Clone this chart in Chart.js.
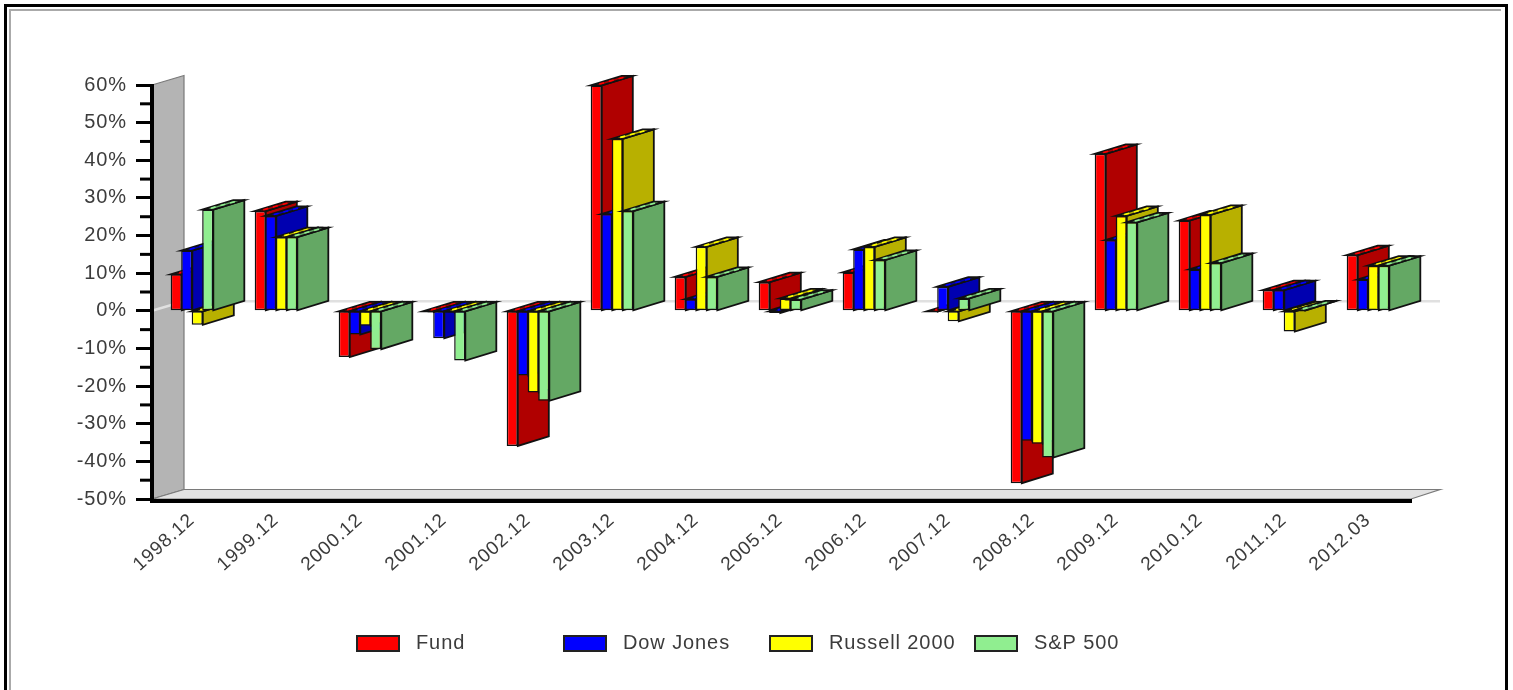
<!DOCTYPE html>
<html>
<head>
<meta charset="utf-8">
<title>Annual returns</title>
<script src="https://cdn.jsdelivr.net/npm/chart.js@4"></script>
<style>
  html, body { margin: 0; background: #fff; overflow: hidden; }
  #chart { position: absolute; left: 0; top: 0; filter: blur(0.7px); }
  .frame { position: absolute; box-sizing: border-box; pointer-events: none; }
  #frameOuter { left: 4px; top: 4px; width: 1504px; height: 720px; border: 3px solid #000; }
  #frameInner { left: 9px; top: 9px; width: 1492px; height: 700px; border-left: 2px solid #aaa; border-top: 2px solid #aaa; }
</style>
</head>
<body>
<canvas id="chart" width="1513" height="690"></canvas>
<div class="frame" id="frameOuter"></div>
<div class="frame" id="frameInner"></div>
<script>
const categories = ['1998.12', '1999.12', '2000.12', '2001.12', '2002.12', '2003.12', '2004.12', '2005.12',
  '2006.12', '2007.12', '2008.12', '2009.12', '2010.12', '2011.12', '2012.03'];

const fund = [9.7, 26.5, -12.3, -0.3, -35.9, 59.9, 9.0, 7.6, 10.2, -0.2, -45.8, 41.7, 24.0, 5.5, 14.8];
const dowJones = [16.0, 25.2, -6.3, -7.3, -17.2, 25.7, 3.1, -0.6, 16.3, 6.4, -34.5, 18.8, 11.0, 5.5, 8.3];
const russell2000 = [-3.7, 19.6, -4.0, -0.5, -21.7, 45.7, 17.0, 3.3, 17.0, -2.8, -35.3, 25.2, 25.5, -5.5, 12.0];
const sp500 = [26.9, 19.6, -10.2, -13.2, -23.9, 26.5, 9.0, 3.0, 13.5, 3.3, -39.0, 23.5, 12.7, 0.1, 12.0];

const seriesNames = ['Fund', 'Dow Jones', 'Russell 2000', 'S&P 500'];
const seriesValues = [fund, dowJones, russell2000, sp500];
const frontColors = ['#ff0000', '#0000ff', '#ffff00', '#90ee90'];
const sideColors = ['#b00000', '#0000b0', '#b8b000', '#64a864'];

const depthX = 31;
const depthY = -9.5;
const wallX = 32;

function poly(ctx, pts, fill, stroke, lineWidth) {
  ctx.beginPath();
  pts.forEach((p, i) => i ? ctx.lineTo(p[0], p[1]) : ctx.moveTo(p[0], p[1]));
  ctx.closePath();
  ctx.fillStyle = fill;
  ctx.fill();
  if (stroke) {
    ctx.strokeStyle = stroke;
    ctx.lineWidth = lineWidth;
    ctx.stroke();
  }
}

const box3d = {
  id: 'box3d',
  beforeDraw(chart) {
    const ctx = chart.ctx;
    const a = chart.chartArea;
    const zero = chart.scales.y.getPixelForValue(0);
    ctx.letterSpacing = '0.9px';
    ctx.save();
    // back wall and floor
    poly(ctx, [[a.left + 2, a.top], [a.left + wallX + 2, a.top + depthY], [a.left + wallX + 2, a.bottom + depthY],
      [a.left + 2, a.bottom]], '#b4b4b4', '#7a7a7a', 1.2);
    poly(ctx, [[a.left + 2, a.bottom], [a.left + wallX + 2, a.bottom + depthY], [a.right + 30, a.bottom + depthY],
      [a.right + 1, a.bottom]], '#e2e2e2', '#7a7a7a', 1.2);
    // zero plane
    ctx.strokeStyle = '#e0e0e0';
    ctx.lineWidth = 2.5;
    ctx.beginPath();
    ctx.moveTo(a.left + 2, zero);
    ctx.lineTo(a.left + wallX + 2, zero + depthY);
    ctx.lineTo(a.right + 30, zero + depthY);
    ctx.stroke();
    ctx.restore();
  },
  // returning false keeps the stock draw out, each bar is drawn below with its faces
  beforeDatasetsDraw(chart) {
    const ctx = chart.ctx;
    const a = chart.chartArea;
    const yScale = chart.scales.y;
    ctx.save();
    // axis lines
    ctx.fillStyle = '#000';
    ctx.fillRect(a.left, a.top - 1, 4, a.bottom - a.top + 5);
    ctx.fillRect(a.left, a.bottom, a.right - a.left + 2, 4);
    // minor ticks
    yScale.ticks.forEach(t => {
      if (t.value % 10 !== 0) {
        ctx.fillStyle = '#000';
        ctx.fillRect(a.left - 10, yScale.getPixelForValue(t.value) - 1.5, 10, 3);
      }
    });
    seriesNames.forEach((name, i) => {
      chart.getDatasetMeta(i).data.forEach(bar => {
        const left = bar.x - bar.width / 2;
        const right = bar.x + bar.width / 2;
        const top = Math.min(bar.y, bar.base);
        const bottom = Math.max(bar.y, bar.base);
        poly(ctx, [[right, top], [right + depthX, top + depthY], [right + depthX, bottom + depthY], [right, bottom]],
          sideColors[i], '#111', 1.8);
        poly(ctx, [[left, top], [left + depthX, top + depthY], [right + depthX, top + depthY], [right, top]],
          sideColors[i], '#111', 1.8);
        // the top face is broken into light cells
        ctx.save();
        ctx.strokeStyle = frontColors[i];
        ctx.lineWidth = 1.6;
        ctx.setLineDash([5, 5]);
        ctx.beginPath();
        ctx.moveTo(bar.x + 3, top + depthY * 0.15);
        ctx.lineTo(bar.x + depthX - 3, top + depthY * 0.85);
        ctx.stroke();
        ctx.restore();
        bar.draw(ctx);
      });
    });
    ctx.restore();
    return false;
  },
  afterDraw(chart) {
    const ctx = chart.ctx;
    const swatchLeft = [357, 564, 770, 975];
    ctx.save();
    ctx.font = '20px "Liberation Sans", Arial, sans-serif';
    ctx.textBaseline = 'middle';
    seriesNames.forEach((name, i) => {
      poly(ctx, [[swatchLeft[i], 636], [swatchLeft[i] + 42, 636], [swatchLeft[i] + 42, 651], [swatchLeft[i], 651]],
        frontColors[i], '#222', 2);
      ctx.fillStyle = '#3c3c3c';
      ctx.fillText(name, swatchLeft[i] + 59, 643);
    });
    ctx.restore();
  }
};

new Chart(document.getElementById('chart').getContext('2d'), {
  type: 'bar',
  data: {
    labels: categories,
    datasets: seriesNames.map((name, i) => ({
      label: name,
      data: seriesValues[i],
      backgroundColor: frontColors[i],
      borderColor: '#111',
      borderWidth: 1.5,
      borderSkipped: false,
      categoryPercentage: 0.5,
      barPercentage: 1.06
    }))
  },
  plugins: [box3d],
  options: {
    responsive: false,
    animation: false,
    layout: { autoPadding: false, padding: { left: 0, top: 85, right: 103, bottom: 0 } },
    plugins: { legend: { display: false }, tooltip: { enabled: false } },
    scales: {
      x: {
        grid: { display: false },
        border: { display: false },
        afterFit(s) { s.height = 191; },
        ticks: {
          autoSkip: false,
          minRotation: 42,
          maxRotation: 42,
          padding: 2,
          color: '#3c3c3c',
          font: { family: '"Liberation Sans", Arial, sans-serif', size: 19 }
        }
      },
      y: {
        min: -50,
        max: 60,
        border: { display: false },
        grid: {
          drawOnChartArea: false,
          tickLength: 14,
          tickWidth: 3,
          tickColor: c => (c.tick.value % 10 === 0 ? '#000' : 'transparent')
        },
        afterFit(s) { s.width = 150; },
        ticks: {
          stepSize: 5,
          autoSkip: false,
          padding: 9,
          color: '#3c3c3c',
          font: { family: '"Liberation Sans", Arial, sans-serif', size: 20 },
          callback: v => (v % 10 === 0 ? v + '%' : '')
        }
      }
    }
  }
});
</script>
</body>
</html>
